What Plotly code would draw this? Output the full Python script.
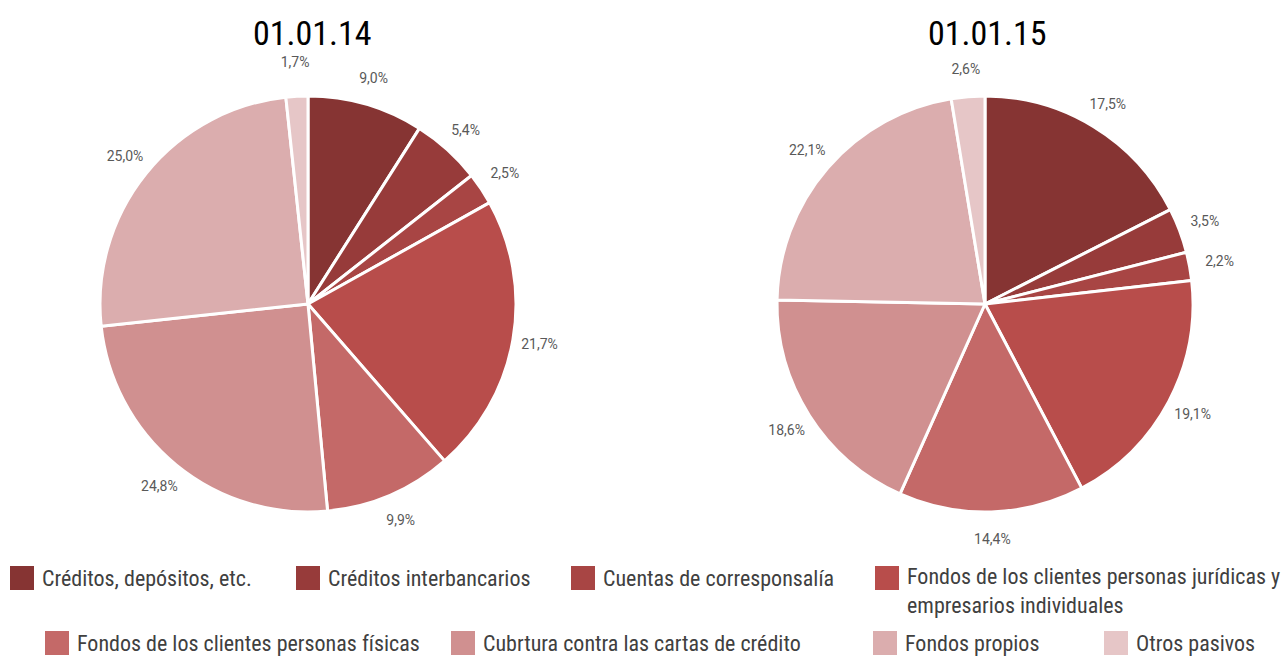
import plotly.graph_objects as go

categories = [
    "Créditos, depósitos, etc.",
    "Créditos interbancarios",
    "Cuentas de corresponsalía",
    "Fondos de los clientes personas jurídicas y<br>empresarios individuales",
    "Fondos de los clientes personas físicas",
    "Cubrtura contra las cartas de crédito",
    "Fondos propios",
    "Otros pasivos",
]
values_2014 = [9.0, 5.4, 2.5, 21.7, 9.9, 24.8, 25.0, 1.7]
values_2015 = [17.5, 3.5, 2.2, 19.1, 14.4, 18.6, 22.1, 2.6]
titles = ["01.01.14", "01.01.15"]
colors = ["#863433", "#973B3A", "#A84544", "#B84D4B", "#C46968", "#D09090", "#DBADAE", "#E6C6C7"]

W, H = 1288, 657
FONT = "Roboto Condensed, Roboto, sans-serif"
LABEL_FONT = "Roboto, sans-serif"
LABEL_SIZE = 14

fig = go.Figure()

def dom(cx, cy, r):
    return dict(x=[(cx - r) / W, (cx + r) / W], y=[(H - cy - r) / H, (H - cy + r) / H])

R = 208
R_OUT = 255
HOLE = 215 / R_OUT
for vals, (cx, cy) in [(values_2014, (308, 304)), (values_2015, (985, 304))]:
    # visible pie
    fig.add_trace(go.Pie(
        labels=categories, values=vals, sort=False, direction="clockwise", rotation=0,
        marker=dict(colors=colors, line=dict(color="white", width=3)),
        textinfo="none", domain=dom(cx, cy, R), showlegend=False, hoverinfo="label+percent",
    ))
    # transparent ring carrying the percentage labels
    fig.add_trace(go.Pie(
        labels=categories, values=vals, sort=False, direction="clockwise", rotation=0,
        hole=HOLE, marker=dict(colors=["rgba(0,0,0,0)"] * len(vals), line=dict(width=0)),
        textposition="inside", insidetextorientation="horizontal",
        texttemplate="%{value:.1f}%",
        textfont=dict(size=LABEL_SIZE, color="#595959", family=LABEL_FONT),
        domain=dom(cx, cy, R_OUT), showlegend=False, hoverinfo="skip",
    ))

annotations = []
for t, cx in zip(titles, [312, 988]):
    annotations.append(dict(x=cx / W, y=1 - 33 / H, xref="paper", yref="paper", text=t,
                            showarrow=False, font=dict(size=34, color="black", family=FONT),
                            xanchor="center", yanchor="middle"))

# legend (manual, two rows)
leg_pos = [(10, 578), (296, 578), (571, 578), (875, 578), (45, 643), (451, 643), (873, 643), (1104, 643)]
shapes = []
for (x, y), c, lab in zip(leg_pos, colors, categories):
    shapes.append(dict(type="rect", xref="paper", yref="paper",
                       x0=x / W, x1=(x + 24) / W, y0=1 - (y + 12) / H, y1=1 - (y - 12) / H,
                       fillcolor=c, line=dict(width=0)))
    ylab = y if "<br>" not in lab else y + 13
    annotations.append(dict(x=(x + 30) / W, y=1 - ylab / H, xref="paper", yref="paper", text=lab,
                            showarrow=False, align="left", xanchor="left", yanchor="middle",
                            font=dict(size=22, color="#404040", family=FONT)))

fig.update_layout(
    width=W, height=H, margin=dict(l=0, r=0, t=0, b=0),
    paper_bgcolor="white", plot_bgcolor="white",
    separators=", ", annotations=annotations, shapes=shapes,
    uniformtext=dict(minsize=LABEL_SIZE, mode="show"),
)
fig.write_html("out.html", config={"displayModeBar": False},
               post_script="document.body.style.margin='0';")
